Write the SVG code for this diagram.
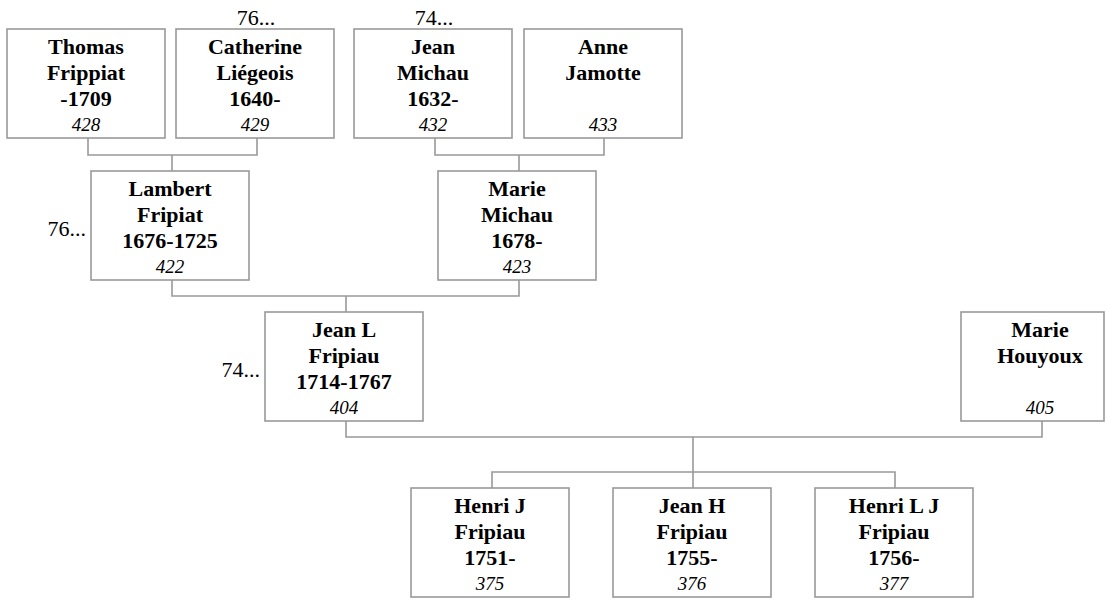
<svg xmlns="http://www.w3.org/2000/svg" width="1109" height="599" viewBox="0 0 1109 599">
<style>
.box{fill:#fff;stroke:#999;stroke-width:1.6}
.n{font-family:"Liberation Serif",serif;font-weight:bold;font-size:22px;text-anchor:middle;fill:#000}
.id{font-family:"Liberation Serif",serif;font-style:italic;font-size:19px;text-anchor:middle;fill:#000}
.m{font-family:"Liberation Serif",serif;font-size:22px;fill:#000}
.c{fill:none;stroke:#999;stroke-width:1.6}
</style>
<rect width="1109" height="599" fill="#fff"/>
<g id="connectors">
<path class="c" d="M88 138V155H257V138M172 155V171"/>
<path class="c" d="M435 138V155H604V138M519 155V171"/>
<path class="c" d="M172 280V296H519V280M346 296V312"/>
<path class="c" d="M346 421V437H1042V421M693 437V472"/>
<path class="c" d="M492 488V472H895V488M693 472V488"/>
</g>
<g id="n428"><rect class="box" x="7" y="29" width="158" height="109"/>
<text class="n" x="86" y="54">Thomas</text><text class="n" x="86" y="80">Frippiat</text><text class="n" x="86" y="106">-1709</text><text class="id" x="86" y="131">428</text></g>
<g id="n429"><rect class="box" x="176" y="29" width="158" height="109"/>
<text class="n" x="255" y="54">Catherine</text><text class="n" x="255" y="80">Liégeois</text><text class="n" x="255" y="106">1640-</text><text class="id" x="255" y="131">429</text></g>
<g id="n432"><rect class="box" x="354" y="29" width="158" height="109"/>
<text class="n" x="433" y="54">Jean</text><text class="n" x="433" y="80">Michau</text><text class="n" x="433" y="106">1632-</text><text class="id" x="433" y="131">432</text></g>
<g id="n433"><rect class="box" x="524" y="29" width="158" height="109"/>
<text class="n" x="603" y="54">Anne</text><text class="n" x="603" y="80">Jamotte</text><text class="id" x="603" y="131">433</text></g>
<g id="n422"><rect class="box" x="91" y="171" width="158" height="109"/>
<text class="n" x="170" y="196">Lambert</text><text class="n" x="170" y="222">Fripiat</text><text class="n" x="170" y="248">1676-1725</text><text class="id" x="170" y="273">422</text></g>
<g id="n423"><rect class="box" x="438" y="171" width="158" height="109"/>
<text class="n" x="517" y="196">Marie</text><text class="n" x="517" y="222">Michau</text><text class="n" x="517" y="248">1678-</text><text class="id" x="517" y="273">423</text></g>
<g id="n404"><rect class="box" x="265" y="312" width="158" height="109"/>
<text class="n" x="344" y="337">Jean L</text><text class="n" x="344" y="363">Fripiau</text><text class="n" x="344" y="389">1714-1767</text><text class="id" x="344" y="414">404</text></g>
<g id="n405"><rect class="box" x="961" y="312" width="143" height="109"/>
<text class="n" x="1040" y="337">Marie</text><text class="n" x="1040" y="363">Houyoux</text><text class="id" x="1040" y="414">405</text></g>
<g id="n375"><rect class="box" x="411" y="488" width="158" height="109"/>
<text class="n" x="490" y="513">Henri J</text><text class="n" x="490" y="539">Fripiau</text><text class="n" x="490" y="565">1751-</text><text class="id" x="490" y="590">375</text></g>
<g id="n376"><rect class="box" x="613" y="488" width="158" height="109"/>
<text class="n" x="692" y="513">Jean H</text><text class="n" x="692" y="539">Fripiau</text><text class="n" x="692" y="565">1755-</text><text class="id" x="692" y="590">376</text></g>
<g id="n377"><rect class="box" x="815" y="488" width="158" height="109"/>
<text class="n" x="894" y="513">Henri L J</text><text class="n" x="894" y="539">Fripiau</text><text class="n" x="894" y="565">1756-</text><text class="id" x="894" y="590">377</text></g>
<g id="more">
<text class="m" x="256" y="25" text-anchor="middle">76...</text>
<text class="m" x="434" y="25" text-anchor="middle">74...</text>
<text class="m" x="86" y="236" text-anchor="end">76...</text>
<text class="m" x="260" y="377" text-anchor="end">74...</text>
</g>
</svg>
